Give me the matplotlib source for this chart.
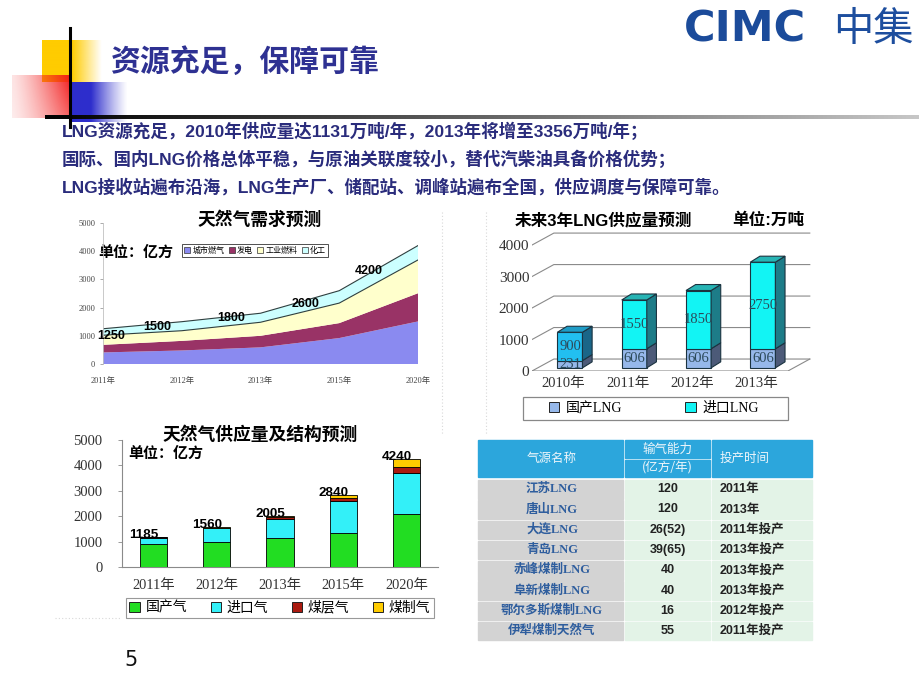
import numpy as np
import matplotlib
matplotlib.use("Agg")
import matplotlib.pyplot as plt
from matplotlib.patches import Rectangle, Polygon, Patch
from matplotlib.font_manager import FontProperties

SANS = ['Liberation Sans', 'Noto Sans CJK SC', 'DejaVu Sans']
SERIF = ['Liberation Serif', 'Noto Sans CJK SC', 'DejaVu Sans']
CJK = ['Noto Sans CJK SC', 'DejaVu Sans']
plt.rcParams['font.family'] = SANS

# ---------------- data ----------------
slide_title = "资源充足，保障可靠"
bullet_lines = [
    "LNG资源充足，2010年供应量达1131万吨/年，2013年将增至3356万吨/年；",
    "国际、国内LNG价格总体平稳，与原油关联度较小，替代汽柴油具备价格优势；",
    "LNG接收站遍布沿海，LNG生产厂、储配站、调峰站遍布全国，供应调度与保障可靠。",
]

# chart 1: demand forecast (stacked area)
demand_years = ['2011年', '2012年', '2013年', '2015年', '2020年']
demand_names = ['城市燃气', '发电', '工业燃料', '化工']
demand_city = [410, 480, 590, 920, 1510]
demand_power = [270, 340, 410, 530, 1000]
demand_industry = [340, 360, 480, 710, 1180]
demand_chem = [230, 320, 320, 440, 510]
demand_totals = [1250, 1500, 1800, 2600, 4200]
demand_ticks = [0, 1000, 2000, 3000, 4000, 5000]

# chart 2: LNG supply forecast (3D stacked columns)
lng_years = ['2010年', '2011年', '2012年', '2013年']
lng_names = ['国产LNG', '进口LNG']
lng_domestic = [231, 606, 606, 606]
lng_import = [900, 1550, 1850, 2750]
lng_ticks = [0, 1000, 2000, 3000, 4000]

# chart 3: supply and structure (stacked columns)
supply_years = ['2011年', '2012年', '2013年', '2015年', '2020年']
supply_names = ['国产气', '进口气', '煤层气', '煤制气']
supply_domestic = [900, 1000, 1150, 1320, 2100]
supply_import = [260, 530, 750, 1280, 1600]
supply_cbm = [20, 20, 80, 100, 250]
supply_coal = [5, 10, 25, 140, 290]
supply_totals = [1185, 1560, 2005, 2840, 4240]
supply_ticks = [0, 1000, 2000, 3000, 4000, 5000]

# table
table_names = ['江苏LNG', '唐山LNG', '大连LNG', '青岛LNG', '赤峰煤制LNG',
               '阜新煤制LNG', '鄂尔多斯煤制LNG', '伊犁煤制天然气']
table_capacity = ['120', '120', '26(52)', '39(65)', '40', '40', '16', '55']
table_start = ['2011年', '2013年', '2011年投产', '2013年投产', '2013年投产',
               '2013年投产', '2012年投产', '2011年投产']

# ---------------- figure ----------------
W, H = 920, 690
fig = plt.figure(figsize=(W / 100, H / 100), dpi=100, facecolor='white')


def fax(x0, y0, x1, y1):
    """axes rect from pixel box (top-left origin)"""
    return [x0 / W, 1 - y1 / H, (x1 - x0) / W, (y1 - y0) / H]


ov = fig.add_axes([0, 0, 1, 1], zorder=0)
ov.axis('off')


def grad(x0, x1, y0, y1, rgb, alpha2d):
    img = np.zeros(alpha2d.shape + (4,))
    img[..., 0], img[..., 1], img[..., 2] = rgb
    img[..., 3] = np.clip(alpha2d, 0, 1)
    ov.imshow(img, extent=(x0, x1, y1, y0), aspect='auto',
              interpolation='bilinear', zorder=1)


tx = np.linspace(0, 1, 120)[None, :]
ty = np.linspace(0, 1, 60)[:, None]
# yellow square
grad(42, 102, 40, 82, (1.0, 0.8, 0.0),
     np.where(tx < 0.5, 1.0, 1 - (tx - 0.5) / 0.5) * np.ones_like(ty))
# red square
grad(12, 71, 75, 118, (0.95, 0.1, 0.1),
     (0.12 + 0.88 * tx ** 1.3) * (1 - 0.3 * ty))
# blue square
grad(71, 128, 82, 122, (0.18, 0.18, 0.8),
     np.where(tx < 0.35, 1.0, 1 - (tx - 0.35) / 0.65) ** 1.2 * np.ones_like(ty))
# horizontal rule with gradient
n = 300
line = np.zeros((1, n, 4))
g = np.linspace(0.0, 0.78, n)
line[0, :, 0] = g
line[0, :, 1] = g
line[0, :, 2] = g
line[0, :, 3] = 1
ov.imshow(line, extent=(45, 920, 119.5, 116), aspect='auto', zorder=2)
ov.plot([70, 70], [28, 127], color='black', lw=2.2, zorder=3)

ov.set_xlim(0, W)
ov.set_ylim(H, 0)

# titles and text
ov.text(110, 62, slide_title, fontsize=21.5, fontweight='bold',
        color='#2e3192', va='center', ha='left', family=CJK, zorder=4)
for i, s in enumerate(bullet_lines):
    ov.text(62, 131 + 28 * i, s, fontsize=12.6, fontweight='bold',
            color='#2a2c7c', va='center', ha='left', family=SANS, zorder=4)

# logo
ov.text(684, 29, 'CIMC', fontsize=31, fontweight='bold', color='#1b4b9a',
        va='center', ha='left', family='DejaVu Sans')
ov.text(873, 29, '中集', fontsize=29, color='#1d4e9e', va='center',
        ha='center', family=CJK)

# page number
ov.text(131, 660, '5', fontsize=15, va='center', ha='center',
        family='DejaVu Sans', color='#111111')

# faint dotted frames
fr = dict(color='#d8d8d8', lw=0.8, ls=(0, (1, 2)), zorder=1)
ov.plot([442, 442], [212, 435], **fr)
ov.plot([486, 486], [212, 435], **fr)
ov.plot([55, 121], [618, 618], **fr)

# ---------------- chart 1: stacked area ----------------
ov.text(260, 220, '天然气需求预测', fontsize=12.8, fontweight='bold',
        va='center', ha='center', family=CJK)
ov.text(98, 252, '单位：亿方', fontsize=10.8, fontweight='bold',
        va='center', ha='left', family=CJK, zorder=6)

ax1 = fig.add_axes(fax(103, 223, 418, 364), zorder=2)
ax1.patch.set_alpha(0)
x1 = np.arange(len(demand_years))
c1 = ['#8a8af0', '#993366', '#ffffcc', '#ccffff']
ax1.stackplot(x1, demand_city, demand_power, demand_industry, demand_chem,
              colors=c1, linewidth=0)
cum = np.cumsum(np.array([demand_city, demand_power, demand_industry,
                          demand_chem]), axis=0)
ax1.plot(x1, cum[2], color='#2f3f3f', lw=0.8)
ax1.plot(x1, cum[3], color='#2f3f3f', lw=0.8)
ax1.set_xlim(0, len(demand_years) - 1)
ax1.set_ylim(0, 5000)
for s in ['top', 'right', 'bottom']:
    ax1.spines[s].set_visible(False)
ax1.spines['left'].set_color('#c0c0c0')
ax1.spines['left'].set_linewidth(0.6)
ax1.set_yticks(demand_ticks)
ax1.set_yticklabels([str(v) for v in demand_ticks])
ax1.set_xticks(x1)
ax1.set_xticklabels(demand_years)
ax1.tick_params(axis='y', length=2, width=0.5, color='#888888', pad=3.5,
                labelsize=6, labelcolor='#444444')
ax1.tick_params(axis='x', length=0, pad=9, labelsize=6, labelcolor='#444444')
for lab in ax1.get_xticklabels() + ax1.get_yticklabels():
    lab.set_fontfamily(SERIF)
label_pos1 = [(0.11, 1005), (0.69, 1300), (1.63, 1630), (2.57, 2130),
              (3.37, 3310)]
for (px, py), v in zip(label_pos1, demand_totals):
    ax1.text(px, py, str(v), fontsize=9, fontweight='bold', ha='center',
             va='center', family=SANS)
h1 = [Patch(facecolor=c, edgecolor='#333333', lw=0.5) for c in c1]
leg1 = ax1.legend(h1, demand_names, loc='center', ncol=4,
                  bbox_to_anchor=(255 / W, 1 - 250.5 / H),
                  bbox_transform=fig.transFigure,
                  prop=FontProperties(family=CJK, size=5.8),
                  handlelength=0.8, handleheight=0.8, handletextpad=0.25,
                  columnspacing=0.5, borderpad=0.3, fancybox=False,
                  framealpha=1, edgecolor='#333333')
leg1.get_frame().set_linewidth(0.6)

# ---------------- chart 2: 3D stacked columns ----------------
ov.text(515, 220, '未来3年LNG供应量预测', fontsize=12, fontweight='bold',
        va='center', ha='left', family=SANS)
ov.text(732, 220, '单位:万吨', fontsize=12, fontweight='bold',
        va='center', ha='left', family=SANS)

ax2 = fig.add_axes(fax(532, 223, 813, 371), zorder=2)
ax2.patch.set_alpha(0)
ax2.set_xlim(-0.49, 3.88)
ax2.set_ylim(0, 4700)
for s in ax2.spines.values():
    s.set_visible(False)
xL, xR = -0.49, 3.49
dxw, dyw = 0.34, 380
for v in lng_ticks:
    ax2.plot([xL, xL + dxw, xR + dxw], [v, v + dyw, v + dyw],
             color='#8a8a8a', lw=0.8, zorder=1)
ax2.plot([xL, xR, xR + dxw], [0, 0, dyw], color='#8a8a8a', lw=0.8, zorder=1)

bx, by = 0.1, 100
bw = 0.39
ddx, ddy = 0.15, 190
x2 = np.arange(len(lng_years))
edge = '#1b3340'
for i in x2:
    segs = [(0, lng_domestic[i], '#96b8ea', '#4c5a78', '#6f86b0'),
            (lng_domestic[i], lng_domestic[i] + lng_import[i],
             '#22bff0' if i == 0 else '#12f4f4',
             '#1a6688' if i == 0 else '#1d7c88',
             '#1f9cc6' if i == 0 else '#27b4b4')]
    for b, t, cf, cs, ct in segs:
        cx = i + bx
        ax2.bar(cx, t - b, bottom=b + by, width=bw, color=cf,
                edgecolor=edge, lw=0.8, zorder=3)
        xr = cx + bw / 2
        ax2.add_patch(Polygon([(xr, b + by), (xr + ddx, b + by + ddy),
                               (xr + ddx, t + by + ddy), (xr, t + by)],
                              closed=True, facecolor=cs, edgecolor=edge,
                              lw=0.8, zorder=3))
    top = lng_domestic[i] + lng_import[i]
    ct = segs[-1][4]
    xl = i + bx - bw / 2
    ax2.add_patch(Polygon([(xl, top + by), (xl + ddx, top + by + ddy),
                           (xl + bw + ddx, top + by + ddy),
                           (xl + bw, top + by)],
                          closed=True, facecolor=ct, edgecolor=edge,
                          lw=0.8, zorder=3))
    for b, t in [(0, lng_domestic[i]), (lng_domestic[i], top)]:
        val = t - b
        ax2.text(i + bx, by + (b + t) / 2, str(val), fontsize=10.5,
                 ha='center', va='center', color='#2c4a5a',
                 family=SERIF, zorder=5)
ax2.set_yticks(lng_ticks)
ax2.set_yticklabels([str(v) for v in lng_ticks])
ax2.set_xticks(x2)
ax2.set_xticklabels(lng_years)
ax2.tick_params(axis='y', length=0, pad=2, labelsize=11, labelcolor='#333333')
ax2.tick_params(axis='x', length=0, pad=4.5, labelsize=10.5,
                labelcolor='#333333')
for lab in ax2.get_xticklabels() + ax2.get_yticklabels():
    lab.set_fontfamily(SERIF)
ov.add_patch(Rectangle((523, 397), 265, 23, facecolor='white',
                       edgecolor='#888888', lw=0.9, zorder=1))
h2 = [Patch(facecolor='#96b8ea', edgecolor='#222222', lw=0.7),
      Patch(facecolor='#12f4f4', edgecolor='#222222', lw=0.7)]
ax2.legend(h2, lng_names, loc='center', ncol=2,
           bbox_to_anchor=(654 / W, 1 - 408.5 / H),
           bbox_transform=fig.transFigure,
           prop=FontProperties(family=SERIF, size=10),
           handlelength=0.75, handleheight=0.75, handletextpad=0.5,
           columnspacing=4.5, frameon=False)

# ---------------- chart 3: stacked columns ----------------
ov.text(260, 435, '天然气供应量及结构预测', fontsize=12.8, fontweight='bold',
        va='center', ha='center', family=CJK)
ov.text(128, 453, '单位：亿方', fontsize=10.8, fontweight='bold',
        va='center', ha='left', family=CJK, zorder=6)

ax3 = fig.add_axes(fax(122, 440, 438, 567), zorder=2)
ax3.patch.set_alpha(0)
x3 = np.arange(len(supply_years))
c3 = ['#22dd22', '#33f0f8', '#aa1a10', '#ffcc00']
bottom = np.zeros(len(supply_years))
for vals, c in zip([supply_domestic, supply_import, supply_cbm, supply_coal], c3):
    ax3.bar(x3, vals, width=0.43, bottom=bottom, color=c, edgecolor='black',
            lw=0.6, zorder=3)
    bottom = bottom + np.array(vals)
for i, v in enumerate(supply_totals):
    ax3.text(i - 0.15, v + 80, str(v), fontsize=9.7, fontweight='bold',
             ha='center', va='center', family=SANS, zorder=5)
ax3.set_xlim(-0.5, len(supply_years) - 0.5)
ax3.set_ylim(0, 5000)
for s in ['top', 'right']:
    ax3.spines[s].set_visible(False)
for s in ['left', 'bottom']:
    ax3.spines[s].set_color('#8a8a8a')
    ax3.spines[s].set_linewidth(0.8)
ax3.set_yticks(supply_ticks)
ax3.set_yticklabels([str(v) for v in supply_ticks])
ax3.set_xticks(x3)
ax3.set_xticklabels(supply_years)
ax3.tick_params(axis='y', length=3, width=0.6, color='#8a8a8a', pad=11,
                labelsize=10.5, labelcolor='#333333')
ax3.tick_params(axis='x', length=0, pad=9, labelsize=10.4,
                labelcolor='#333333')
for lab in ax3.get_xticklabels() + ax3.get_yticklabels():
    lab.set_fontfamily(SERIF)
h3 = [Patch(facecolor=c, edgecolor='#222222', lw=0.7) for c in c3]
leg3 = ax3.legend(h3, supply_names, loc='center', ncol=4,
                  bbox_to_anchor=(280 / W, 1 - 608 / H),
                  bbox_transform=fig.transFigure,
                  prop=FontProperties(family=SERIF, size=10),
                  handlelength=0.75, handleheight=0.75, handletextpad=0.4,
                  columnspacing=1.7, borderpad=0.25, fancybox=False,
                  framealpha=1, edgecolor='#999999')
leg3.get_frame().set_linewidth(0.8)

# ---------------- table ----------------
hdr_blue = '#2ca6dc'
hdr_txt = '#eef6fb'
ov.add_patch(Rectangle((478, 440), 145, 37, color=hdr_blue, zorder=2))
ov.add_patch(Rectangle((625, 440), 85, 18, color=hdr_blue, zorder=2))
ov.add_patch(Rectangle((625, 460), 85, 17, color=hdr_blue, zorder=2))
ov.add_patch(Rectangle((712, 440), 100, 37, color=hdr_blue, zorder=2))
ov.text(552, 458.5, '气源名称', fontsize=9, color=hdr_txt, ha='center',
        va='center', family=CJK, zorder=3)
ov.text(667.5, 449, '输气能力', fontsize=9, color=hdr_txt, ha='center',
        va='center', family=CJK, zorder=3)
ov.text(667.5, 468.5, '(亿方/年)', fontsize=9, color=hdr_txt, ha='center',
        va='center', family=CJK, zorder=3)
ov.text(720, 458.5, '投产时间', fontsize=9, color=hdr_txt, ha='left',
        va='center', family=CJK, zorder=3)
row_top, row_pitch, row_h = 480, 20.25, 18.5
for i, (nm, cap, st) in enumerate(zip(table_names, table_capacity, table_start)):
    y0 = row_top + i * row_pitch
    ov.add_patch(Rectangle((478, y0), 145, row_h, color='#d3d3d3', zorder=2))
    ov.add_patch(Rectangle((625, y0), 85, row_h, color='#e3f3e7', zorder=2))
    ov.add_patch(Rectangle((712, y0), 100, row_h, color='#e3f3e7', zorder=2))
    yc = y0 + row_h / 2
    ov.text(552, yc, nm, fontsize=9, fontweight='bold', color='#2f5e9e',
            ha='center', va='center', family=SERIF, zorder=3)
    ov.text(667.5, yc, cap, fontsize=9, fontweight='bold', color='#222222',
            ha='center', va='center', family=SANS, zorder=3)
    ov.text(720, yc, st, fontsize=9, fontweight='bold', color='#222222',
            ha='left', va='center', family=SANS, zorder=3)

fig.savefig('out.png', dpi=100, facecolor='white')
